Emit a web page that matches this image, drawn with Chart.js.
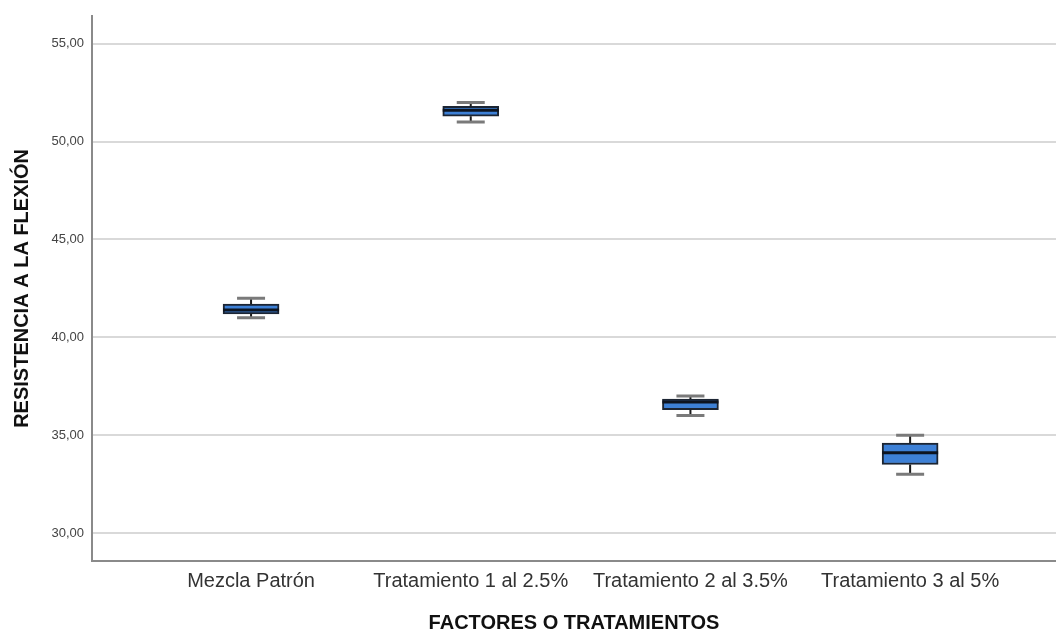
<!DOCTYPE html>
<html>
<head>
<meta charset="utf-8">
<script src="https://cdn.jsdelivr.net/npm/chart.js@4/dist/chart.umd.min.js"></script>
<style>
  html, body { margin: 0; padding: 0; background: #fff; }
  #wrap { width: 1056px; height: 631px; }
</style>
</head>
<body>
<div id="wrap"><canvas id="c" width="1056" height="631"></canvas></div>
<script>
// Flexural strength by treatment (five-number summaries)
const categories = ['Mezcla Patrón', 'Tratamiento 1 al 2.5%', 'Tratamiento 2 al 3.5%', 'Tratamiento 3 al 5%'];
const minimum = [41.0, 51.0, 36.0, 33.0];
const q1      = [41.2, 51.3, 36.3, 33.5];
const median  = [41.4, 51.6, 36.7, 34.1];
const q3      = [41.7, 51.8, 36.85, 34.6];
const maximum = [42.0, 52.0, 37.0, 35.0];
const yTicks  = [30, 35, 40, 45, 50, 55];

const positions = categories.map((_, i) => i + 1);
const boxData = positions.map((p, i) => ({ x: p, y: [q1[i], q3[i]] }));

// Whiskers, caps and median lines drawn on top of the boxes
const boxExtras = {
  id: 'boxExtras',
  afterDatasetsDraw(chart) {
    const ctx = chart.ctx;
    const xs = chart.scales.x, ys = chart.scales.y;
    const capHalf = 14, boxHalf = 28;
    ctx.save();
    positions.forEach((p, i) => {
      const x = xs.getPixelForValue(p);
      const yMin = ys.getPixelForValue(minimum[i]);
      const yQ1 = ys.getPixelForValue(q1[i]);
      const yMed = ys.getPixelForValue(median[i]);
      const yQ3 = ys.getPixelForValue(q3[i]);
      const yMax = ys.getPixelForValue(maximum[i]);
      // whisker stems
      ctx.strokeStyle = '#1b1b1b';
      ctx.lineWidth = 2;
      ctx.beginPath();
      ctx.moveTo(x, yMax); ctx.lineTo(x, yQ3);
      ctx.moveTo(x, yQ1); ctx.lineTo(x, yMin);
      ctx.stroke();
      // caps
      ctx.strokeStyle = '#7a7a7a';
      ctx.lineWidth = 3;
      ctx.beginPath();
      ctx.moveTo(x - capHalf, yMax); ctx.lineTo(x + capHalf, yMax);
      ctx.moveTo(x - capHalf, yMin); ctx.lineTo(x + capHalf, yMin);
      ctx.stroke();
      // median
      ctx.strokeStyle = '#0d1420';
      ctx.lineWidth = 3;
      ctx.beginPath();
      ctx.moveTo(x - boxHalf, yMed); ctx.lineTo(x + boxHalf, yMed);
      ctx.stroke();
    });
    ctx.restore();
  }
};

new Chart(document.getElementById('c'), {
  type: 'bar',
  data: {
    datasets: [{
      data: boxData,
      backgroundColor: '#3d80d6',
      borderColor: '#1c2533',
      borderWidth: 2,
      borderSkipped: false,
      barThickness: 56
    }]
  },
  plugins: [boxExtras],
  options: {
    responsive: false,
    animation: false,
    events: [],
    layout: { padding: { top: 15, right: 0, left: 0, bottom: 0 } },
    plugins: { legend: { display: false }, tooltip: { enabled: false } },
    scales: {
      x: {
        type: 'linear',
        offset: false,
        min: 0.276,
        max: 4.664,
        afterBuildTicks(axis) { axis.ticks = positions.map(v => ({ value: v })); },
        afterFit(axis) { axis.height = 70; },
        grid: { display: false, drawTicks: false },
        border: { color: '#8a8a8a', width: 2 },
        ticks: {
          padding: 8,
          maxRotation: 0,
          autoSkip: false,
          color: '#333',
          font: { family: 'Liberation Sans, Arial, sans-serif', size: 20 },
          callback: (v) => categories[Math.round(v) - 1] || ''
        },
        title: {
          display: true,
          text: 'FACTORES O TRATAMIENTOS',
          color: '#111',
          font: { family: 'Liberation Sans, Arial, sans-serif', size: 20, weight: 'bold' },
          padding: { top: 13, bottom: -4 }
        }
      },
      y: {
        min: 28.57,
        max: 56.43,
        afterBuildTicks(axis) { axis.ticks = yTicks.map(v => ({ value: v })); },
        afterFit(axis) { axis.width = 92; },
        grid: { color: '#d9d9d9', lineWidth: 2, drawTicks: false },
        border: { color: '#8a8a8a', width: 2 },
        ticks: {
          padding: 8,
          color: '#444',
          font: { family: 'Liberation Sans, Arial, sans-serif', size: 13 },
          callback: (v) => v.toFixed(2).replace('.', ',')
        },
        title: {
          display: true,
          text: 'RESISTENCIA A LA FLEXIÓN',
          color: '#111',
          font: { family: 'Liberation Sans, Arial, sans-serif', size: 20, weight: 'bold' },
          padding: { top: 10, bottom: 0 }
        }
      }
    }
  }
});
</script>
</body>
</html>
